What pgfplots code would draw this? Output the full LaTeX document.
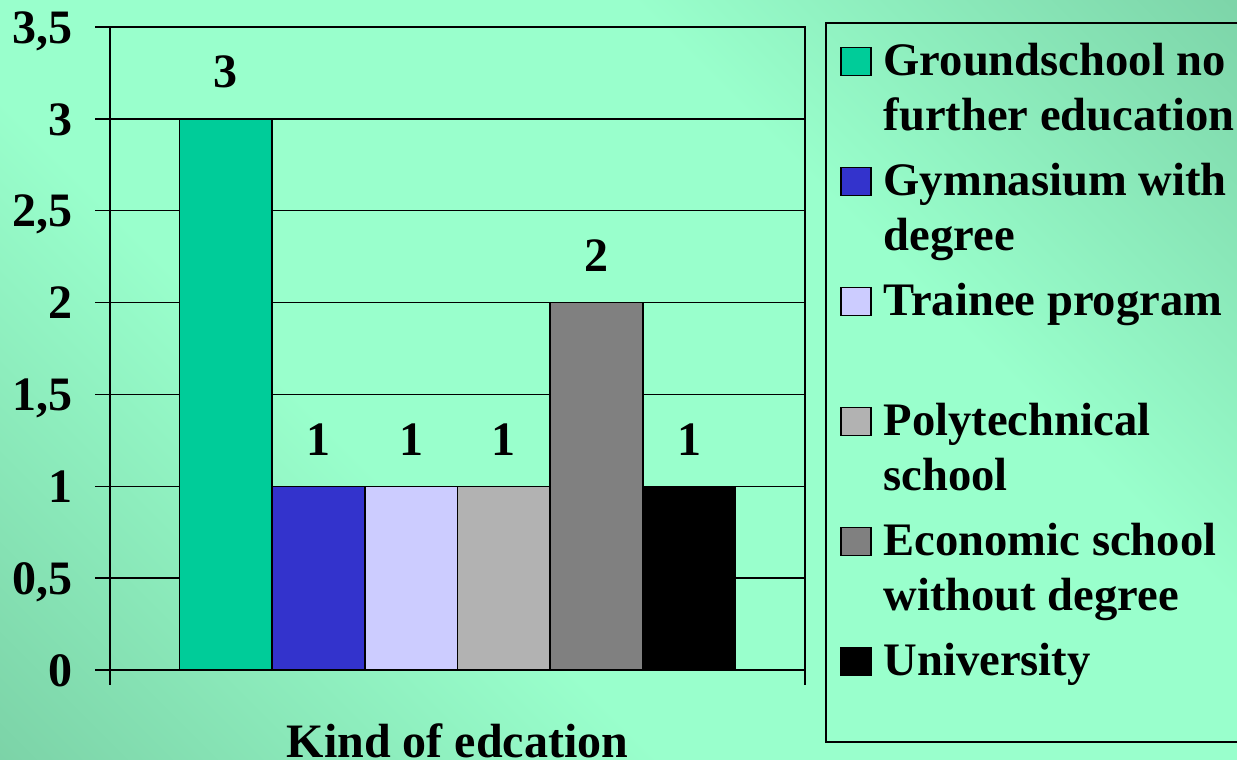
\documentclass[border=0pt]{standalone}
\usepackage{fontspec}
\setmainfont{Liberation Serif}
\usepackage{pgfplots}
\pgfplotsset{compat=1.18}

\definecolor{bglight}{HTML}{99FFCC}
\definecolor{bgdark}{HTML}{6AB891}
\definecolor{cGround}{HTML}{00CC99}
\definecolor{cGym}{HTML}{3333CC}
\definecolor{cTrain}{HTML}{CCCCFF}
\definecolor{cPoly}{HTML}{B2B2B2}
\definecolor{cEcon}{HTML}{808080}
\definecolor{cUni}{HTML}{000000}

\pgfdeclareverticalshading{bgsh}{100bp}{color(0bp)=(bgdark); color(38bp)=(bglight); color(64bp)=(bglight); color(100bp)=(bgdark)}

\newcommand\bigbf{\fontsize{24}{27.5}\selectfont\bfseries}
\newcommand\legbf{\fontsize{23.3}{27.5}\selectfont\bfseries}
\newcommand\entry[1]{\parbox[t][60pt][t]{200pt}{\strut#1}}

\pgfplotsset{
  sq/.style={legend image code/.code={\draw[##1,line width=0.6pt] (0pt,0pt) rectangle (15pt,14pt);}},
}

\begin{document}
\begin{tikzpicture}
\shade[shading=bgsh,shading angle=-45] (0,0) rectangle (618.5pt,380pt);
\draw[line width=0.75pt] (413pt,9pt) rectangle (650pt,368.5pt);
\begin{axis}[
  at={(55pt,45pt)},anchor=south west,
  scale only axis,width=347.5pt,height=321.5pt,
  xmin=-3.75,xmax=3.75,ymin=0,ymax=3.5,
  xtick={-3.75,3.75},xticklabels={,},
  ytick={0,0.5,...,3.5},
  xtick pos=left,ytick pos=left,
  tick align=outside,major tick length=7.5pt,
  tick style={black,line width=0.75pt},
  ymajorgrids,grid style={black,line width=0.75pt},
  axis line style={black,line width=1pt},
  /pgf/number format/.cd,use comma,assume math mode=true,fixed,precision=1,/pgfplots/.cd,
  yticklabel style={font=\bigbf,text height=16.2pt,text depth=0pt,inner sep=0pt,anchor=east,xshift=-11pt},
  xlabel={Kind of edcation},
  xlabel style={font=\bigbf,at={(axis description cs:0.5,0)},anchor=base,yshift=-43.5pt},
  every node near coord/.append style={font=\bigbf,inner sep=0pt,yshift=15pt},
  legend style={draw=none,fill=none,font=\legbf,inner sep=0pt,column sep=6pt,row sep=0pt,
    at={(axis description cs:1.0504,0.9852)},anchor=north west,
    cells={anchor=base west},nodes={inner sep=0pt,text depth=,text height=}},
]
\addplot[ybar,bar width=1,bar shift=0pt,fill=cGround,draw=black,line width=0.75pt,nodes near coords,sq]
  coordinates {(-2.5,3)};
\addlegendentry{\entry{Groundschool no\newline further education}}
\addplot[ybar,bar width=1,bar shift=0pt,fill=cGym,draw=black,line width=0.75pt,nodes near coords,sq]
  coordinates {(-1.5,1)};
\addlegendentry{\entry{Gymnasium with\newline degree}}
\addplot[ybar,bar width=1,bar shift=0pt,fill=cTrain,draw=black,line width=0.75pt,nodes near coords,sq]
  coordinates {(-0.5,1)};
\addlegendentry{\entry{Trainee program}}
\addplot[ybar,bar width=1,bar shift=0pt,fill=cPoly,draw=black,line width=0.75pt,nodes near coords,sq]
  coordinates {(0.5,1)};
\addlegendentry{\entry{Polytechnical\newline school}}
\addplot[ybar,bar width=1,bar shift=0pt,fill=cEcon,draw=black,line width=0.75pt,nodes near coords,sq]
  coordinates {(1.5,2)};
\addlegendentry{\entry{Economic school\newline without degree}}
\addplot[ybar,bar width=1,bar shift=0pt,fill=cUni,draw=black,line width=0.75pt,nodes near coords,sq]
  coordinates {(2.5,1)};
\addlegendentry{\entry{University}}
\end{axis}
\pgfresetboundingbox
\useasboundingbox (0,0) rectangle (618.5pt,380pt);
\end{tikzpicture}
\end{document}
